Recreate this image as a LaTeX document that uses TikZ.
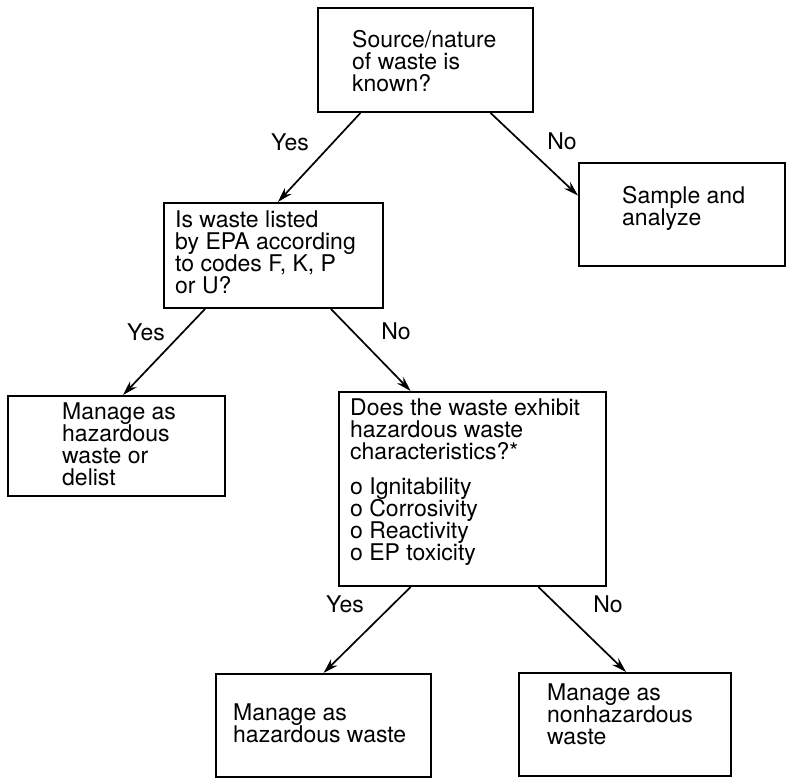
\documentclass[tikz,border=0pt]{standalone}
\usepackage{fontspec}
\setmainfont{TeX Gyre Heros}
\usetikzlibrary{calc,arrows.meta}
\begin{document}
\lineskiplimit=-100pt\relax
\begin{tikzpicture}[x=1pt,y=-1pt,
  box/.style={draw=black, line width=2pt, inner sep=0pt, anchor=north west},
  txt/.style={align=left, inner sep=0pt, anchor=north west, font=\fontsize{23}{22}\selectfont},
  lbl/.style={inner sep=0pt, font=\fontsize{23}{22}\selectfont},
  arr/.style={line width=1.7pt, -{Stealth[length=15pt,width=9pt]}}]
\useasboundingbox (0,0) rectangle (788,778);
\fill[white] (0,0) rectangle (788,778);
\clip (0,0) rectangle (788,778);
% boxes
\node[box, minimum width=215pt, minimum height=104pt] (A) at (317,7) {};
\node[box, minimum width=206pt, minimum height=103pt] (S) at (578,162) {};
\node[box, minimum width=219pt, minimum height=105pt] (B) at (163,202) {};
\node[box, minimum width=217pt, minimum height=100pt] (C) at (7,395) {};
\node[box, minimum width=267pt, minimum height=194pt] (D) at (338,391) {};
\node[box, minimum width=215pt, minimum height=103pt] (E) at (215,673) {};
\node[box, minimum width=212pt, minimum height=103pt] (F) at (518,672) {};
% texts
\node[txt] (At) at (352,30) {Source/nature\\of waste is\\known?};
\node[txt] (St) at (622,186) {Sample and\\analyze};
\node[txt] (Bt) at (175,211) {Is waste listed\\by EPA according\\to codes F, K, P\\or U?};
\node[txt] (Ct) at (62,403) {Manage as\\hazardous\\waste or\\delist};
\node[txt] (Dt) at (350,399) {Does the waste exhibit\\hazardous waste\\characteristics?*\\[13pt]o Ignitability\\o Corrosivity\\o Reactivity\\o EP toxicity};
\node[txt] (Et) at (233,704) {Manage as\\hazardous waste};
\node[txt] (Ft) at (547,684) {Manage as\\nonhazardous\\waste};
% labels
\node[lbl] (y1) at (290,142) {Yes};
\node[lbl] (n1) at (562,141) {No};
\node[lbl] (y2) at (146,332) {Yes};
\node[lbl] (n2) at (396,331) {No};
\node[lbl] (y3) at (345,604) {Yes};
\node[lbl] (n3) at (608,604) {No};
% connectors
\draw[arr] ($(A.south west)!0.2!(A.south east)$) -- ($(B.north west)!0.52!(B.north east)$);
\draw[arr] ($(A.south west)!0.8!(A.south east)$) -- ($(S.north west)!0.32!(S.south west)$);
\draw[arr] ($(B.south west)!0.19!(B.south east)$) -- ($(C.north west)!0.53!(C.north east)$);
\draw[arr] ($(B.south west)!0.76!(B.south east)$) -- ($(D.north west)!0.27!(D.north east)$);
\draw[arr] ($(D.south west)!0.27!(D.south east)$) -- ($(E.north west)!0.5!(E.north east)$);
\draw[arr] ($(D.south west)!0.745!(D.south east)$) -- ($(F.north west)!0.505!(F.north east)$);
\end{tikzpicture}
\end{document}
